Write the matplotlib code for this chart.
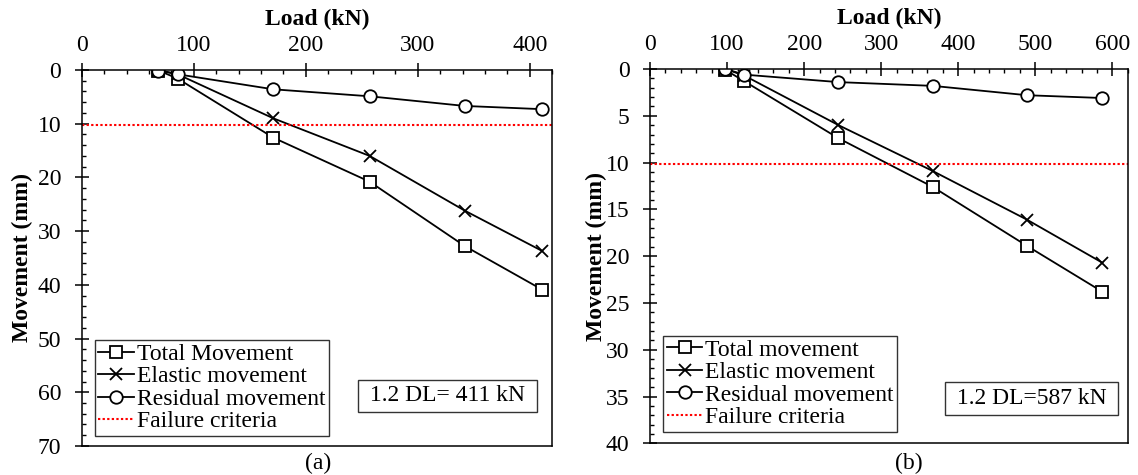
import matplotlib
matplotlib.use("Agg")
from matplotlib import pyplot as plt
from matplotlib.ticker import MultipleLocator

plt.rcParams['font.family'] = ['Liberation Serif', 'DejaVu Serif']
plt.rcParams['font.size'] = 17

# Panel (a)
load_a = [68.5, 85.6, 171, 257, 342, 411]
total_a = [0.1, 1.6, 12.6, 20.8, 32.8, 40.9]
elastic_a = [0.0, 0.8, 9.0, 16.0, 26.2, 33.7]
residual_a = [0.1, 0.8, 3.6, 4.9, 6.7, 7.3]

# Panel (b)
load_b = [97.8, 122.3, 244.6, 366.9, 489.2, 587]
total_b = [0.1, 1.3, 7.4, 12.6, 18.9, 23.8]
elastic_b = [0.0, 0.7, 6.0, 10.9, 16.1, 20.7]
residual_b = [0.0, 0.6, 1.4, 1.8, 2.8, 3.1]

failure_mm = 10.16

panels = [
    dict(load=load_a, total=total_a, elastic=elastic_a, residual=residual_a,
         total_label='Total Movement', note='1.2 DL= 411 kN', caption='(a)',
         xmax=420, ymax=70, ymajor=10, yminor=2),
    dict(load=load_b, total=total_b, elastic=elastic_b, residual=residual_b,
         total_label='Total movement', note='1.2 DL=587 kN', caption='(b)',
         xmax=620, ymax=40, ymajor=5, yminor=1),
]

fig = plt.figure(figsize=(11.38, 4.75), dpi=100)
ax_rects = [[0.0718, 0.0611, 0.4135, 0.7916], [0.5712, 0.0667, 0.4198, 0.7880]]
note_pos = [(0.777, 0.133), (0.7985, 0.120)]
legend_anchor = [(0.028, 0.027), (0.028, 0.031)]
ylabel_x = [-0.104, -0.091]
caption_pos = [(317.7 / 1138, 1 - 463 / 475), (909 / 1138, 1 - 463 / 475)]

for i, p in enumerate(panels):
    ax = fig.add_axes(ax_rects[i])
    line_kw = dict(color='black', lw=1.3, mfc='white', mec='black')
    ax.plot(p['load'], p['total'], marker='s', ms=8, mew=1.3, label=p['total_label'], **line_kw)
    ax.plot(p['load'], p['elastic'], marker='x', ms=9, mew=1.3, label='Elastic movement', **line_kw)
    ax.plot(p['load'], p['residual'], marker='o', ms=9, mew=1.3, label='Residual movement', **line_kw)
    ax.axhline(failure_mm, color='red', lw=1.5, dashes=(1.1, 1.1), label='Failure criteria')

    ax.set_xlim(0, p['xmax'])
    ax.set_ylim(p['ymax'], 0)
    ax.xaxis.tick_top()
    ax.xaxis.set_major_locator(MultipleLocator(100))
    ax.xaxis.set_minor_locator(MultipleLocator(20))
    ax.yaxis.set_major_locator(MultipleLocator(p['ymajor']))
    ax.yaxis.set_minor_locator(MultipleLocator(p['yminor']))
    ax.tick_params(which='major', direction='inout', length=9.6, width=1.1)
    ax.tick_params(which='minor', direction='in', length=3.2, width=1.0)
    ax.tick_params(axis='x', which='major', pad=5)
    ax.tick_params(axis='y', which='major', pad=10)
    for s in ax.spines.values():
        s.set_linewidth(1.1)

    ax.xaxis.set_label_position('top')
    ax.set_xlabel('Load (kN)', fontweight='bold')
    ax.xaxis.set_label_coords(0.5, 1.12)
    ax.set_ylabel('Movement (mm)', fontweight='bold')
    ax.yaxis.set_label_coords(ylabel_x[i], 0.5)

    leg = ax.legend(loc='lower left', bbox_to_anchor=legend_anchor[i], borderaxespad=0,
                    fancybox=False, framealpha=1, edgecolor='#333333',
                    handlelength=1.5, handletextpad=0.12, labelspacing=0.04,
                    borderpad=0.15, fontsize=17)
    leg.get_frame().set_linewidth(1.0)

    ax.text(note_pos[i][0], note_pos[i][1], ' ' + p['note'] + ' ', transform=ax.transAxes,
            ha='center', va='center',
            bbox=dict(boxstyle='square,pad=0.25', fc='white', ec='#333333', lw=1.0))

    fig.text(caption_pos[i][0], caption_pos[i][1], p['caption'], ha='center', va='center')

fig.savefig('out.png', dpi=100)
